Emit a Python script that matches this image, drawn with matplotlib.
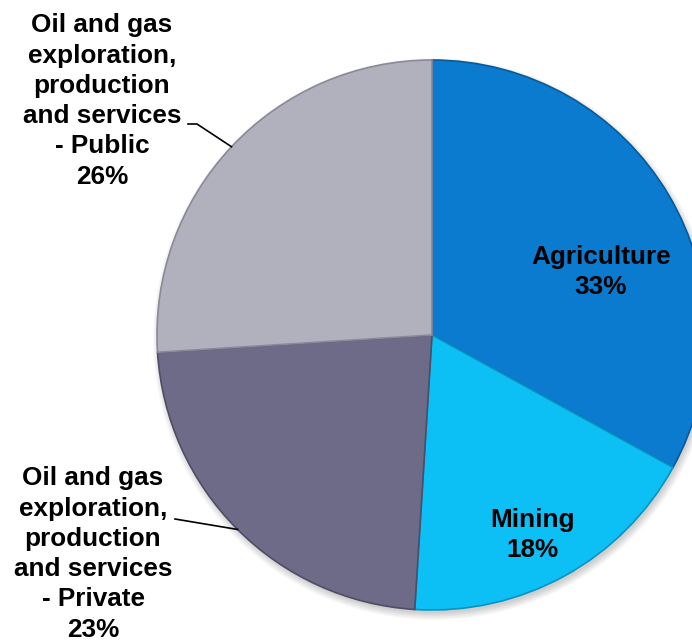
import numpy as np
import matplotlib.pyplot as plt
from matplotlib.patches import Circle

plt.rcParams['font.family'] = ['Liberation Sans', 'DejaVu Sans']

categories = ["Agriculture", "Mining",
              "Oil and gas\nexploration,\nproduction\nand services\n- Private",
              "Oil and gas\nexploration,\nproduction\nand services\n- Public"]
shares = [33, 18, 23, 26]
colors = ["#0a7bcf", "#0cbff5", "#6d6b87", "#b1b0bd"]
edges = ["#075a99", "#0893c0", "#4e4c66", "#8a899a"]

W, H = 692, 643
cx, cy, R = 432, H - 335, 275

fig = plt.figure(figsize=(W / 100, H / 100), dpi=100)
ax = fig.add_axes([0, 0, 1, 1])

# soft shadow under the pie
for k in range(8):
    ax.add_patch(Circle((cx + 2, cy - 4), R + 6 - k, color="black", alpha=0.025, lw=0, zorder=0))

wedges, _ = ax.pie(shares, colors=colors, startangle=90, counterclock=False,
                   center=(cx, cy), radius=R,
                   wedgeprops=dict(linewidth=1.2, zorder=2))
for w, e in zip(wedges, edges):
    w.set_edgecolor(e)

ax.set_xlim(0, W)
ax.set_ylim(0, H)
ax.set_aspect("equal")
ax.axis("off")

fs = 18.8
ls = 1.33
# labels inside
ax.text(601, H - 272, f"{categories[0]}\n{shares[0]}%", ha="center", va="center",
        fontsize=fs, fontweight="bold", linespacing=ls)
ax.text(533, H - 535, f"{categories[1]}\n{shares[1]}%", ha="center", va="center",
        fontsize=fs, fontweight="bold", linespacing=ls)

# outside labels with leader lines to wedge midpoints
ax.text(102, H - 101, f"{categories[3]}\n{shares[3]}%", ha="center", va="center",
        fontsize=fs, fontweight="bold", linespacing=ls)
ax.text(93, H - 554, f"{categories[2]}\n{shares[2]}%", ha="center", va="center",
        fontsize=fs, fontweight="bold", linespacing=ls)

for w, (x0, y0, xk) in zip([wedges[3], wedges[2]],
                           [(188, H - 124, 197), (175, H - 519, None)]):
    mid = np.deg2rad((w.theta1 + w.theta2) / 2)
    ex, ey = cx + R * np.cos(mid), cy + R * np.sin(mid)
    if xk is not None:
        ax.plot([x0, xk, ex], [y0, y0, ey], color="black", lw=1.2, zorder=3)
    else:
        ax.plot([x0, ex], [y0, ey], color="black", lw=1.2, zorder=3)

fig.savefig("out.png", dpi=100)
